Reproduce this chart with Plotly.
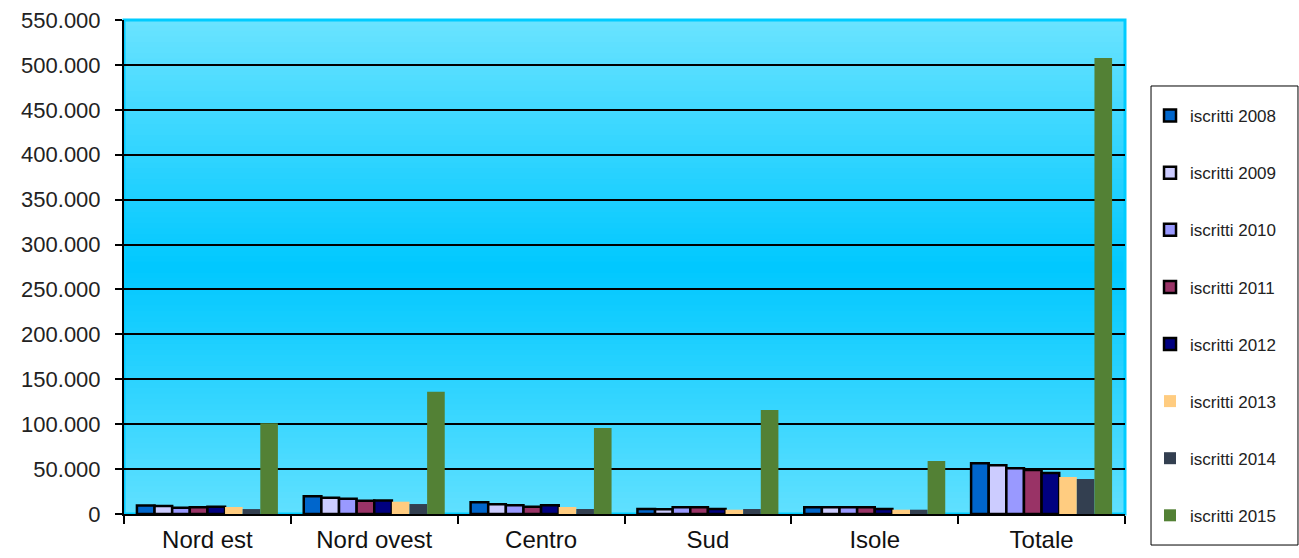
import plotly.graph_objects as go

# Regions (categories) and yearly enrolment counts
regions = ["Nord est", "Nord ovest", "Centro", "Sud", "Isole", "Totale"]
years = ["iscritti 2008", "iscritti 2009", "iscritti 2010", "iscritti 2011",
         "iscritti 2012", "iscritti 2013", "iscritti 2014", "iscritti 2015"]

iscritti_2008 = [9500, 19700, 13000, 5600, 7400, 56400]
iscritti_2009 = [9000, 18100, 10800, 5200, 7400, 54200]
iscritti_2010 = [7000, 17000, 9700, 7400, 7400, 50900]
iscritti_2011 = [7500, 14800, 8100, 7400, 7400, 49000]
iscritti_2012 = [8000, 14900, 9700, 5600, 5600, 45600]
iscritti_2013 = [7800, 13700, 7800, 4800, 4800, 41200]
iscritti_2014 = [5500, 11100, 5600, 5600, 4800, 39000]
iscritti_2015 = [101000, 136000, 95700, 115800, 59000, 507700]

series = [iscritti_2008, iscritti_2009, iscritti_2010, iscritti_2011,
          iscritti_2012, iscritti_2013, iscritti_2014, iscritti_2015]
colors = ["#0066cc", "#ccccff", "#9999ff", "#993366",
          "#000080", "#ffcc80", "#333f50", "#538135"]
outlined = [True, True, True, True, True, False, False, False]

fig = go.Figure()
for name, vals, col, out in zip(years, series, colors, outlined):
    fig.add_trace(go.Bar(
        x=regions, y=vals, name=name, legendgroup=name,
        marker=dict(color=col,
                    line=dict(color="black", width=2.5 if out else 0)),
    ))

# Vertical gradient for the plotting area: light at the edges, deep cyan in the middle
top_c = (106, 227, 255)
mid_c = (0, 200, 255)
bot_c = (96, 224, 255)
n = 90
shapes = []
for i in range(n):
    t0 = i / n
    t1 = (i + 1) / n
    tc = (t0 + t1) / 2  # 0 = bottom, 1 = top
    if tc < 0.5:
        f = tc / 0.5
        c = [bot_c[k] + (mid_c[k] - bot_c[k]) * f for k in range(3)]
    else:
        f = (tc - 0.5) / 0.5
        c = [mid_c[k] + (top_c[k] - mid_c[k]) * f for k in range(3)]
    shapes.append(dict(type="rect", xref="x domain", yref="y domain",
                       x0=0, x1=1, y0=t0, y1=t1 + 0.002, layer="below",
                       line=dict(width=0),
                       fillcolor="rgb(%d,%d,%d)" % tuple(int(round(v)) for v in c)))
# cyan frame of the plotting area
shapes.append(dict(type="rect", xref="x domain", yref="y domain",
                   x0=0, x1=1, y0=0, y1=1, layer="below",
                   line=dict(color="#00ccff", width=3), fillcolor="rgba(0,0,0,0)"))
# frame around the legend
shapes.append(dict(type="rect", xref="paper", yref="paper",
                   x0=1.026, x1=1.1728, y0=-0.0628, y1=0.8664, layer="above",
                   line=dict(color="black", width=1), fillcolor="rgba(0,0,0,0)"))

fig.update_layout(
    width=1299, height=558,
    margin=dict(l=124, r=174, t=20, b=44, autoexpand=False),
    paper_bgcolor="white",
    plot_bgcolor="rgba(0,0,0,0)",
    barmode="group",
    bargap=0.155,
    bargroupgap=0,
    separators=",.",
    font=dict(family="Arial, Liberation Sans, sans-serif", color="#222222"),
    shapes=shapes,
    showlegend=True,
    legend=dict(
        x=1.025, xanchor="left", y=0.842, yanchor="top",
        borderwidth=0, bgcolor="rgba(0,0,0,0)",
        font=dict(size=17, color="#222222"),
        tracegroupgap=32,
        traceorder="grouped",
        itemwidth=30,
    ),
)

fig.update_xaxes(
    automargin=False,
    showgrid=False,
    showline=True, linecolor="black", linewidth=2,
    ticks="outside", tickson="boundaries", ticklen=8, tickcolor="black", tickwidth=2,
    tickfont=dict(size=24, color="#111111"),
    ticklabelstandoff=3,
)
fig.update_yaxes(
    automargin=False,
    range=[0, 550000],
    tickvals=list(range(0, 550001, 50000)),
    tickformat=",d",
    showgrid=True, gridcolor="black", gridwidth=1.5,
    showline=True, linecolor="black", linewidth=2,
    zeroline=False,
    ticks="outside", ticklen=7, tickcolor="black", tickwidth=2,
    tickfont=dict(size=22, color="#222222"),
    ticklabelstandoff=10,
)

fig.write_html("out.html")
